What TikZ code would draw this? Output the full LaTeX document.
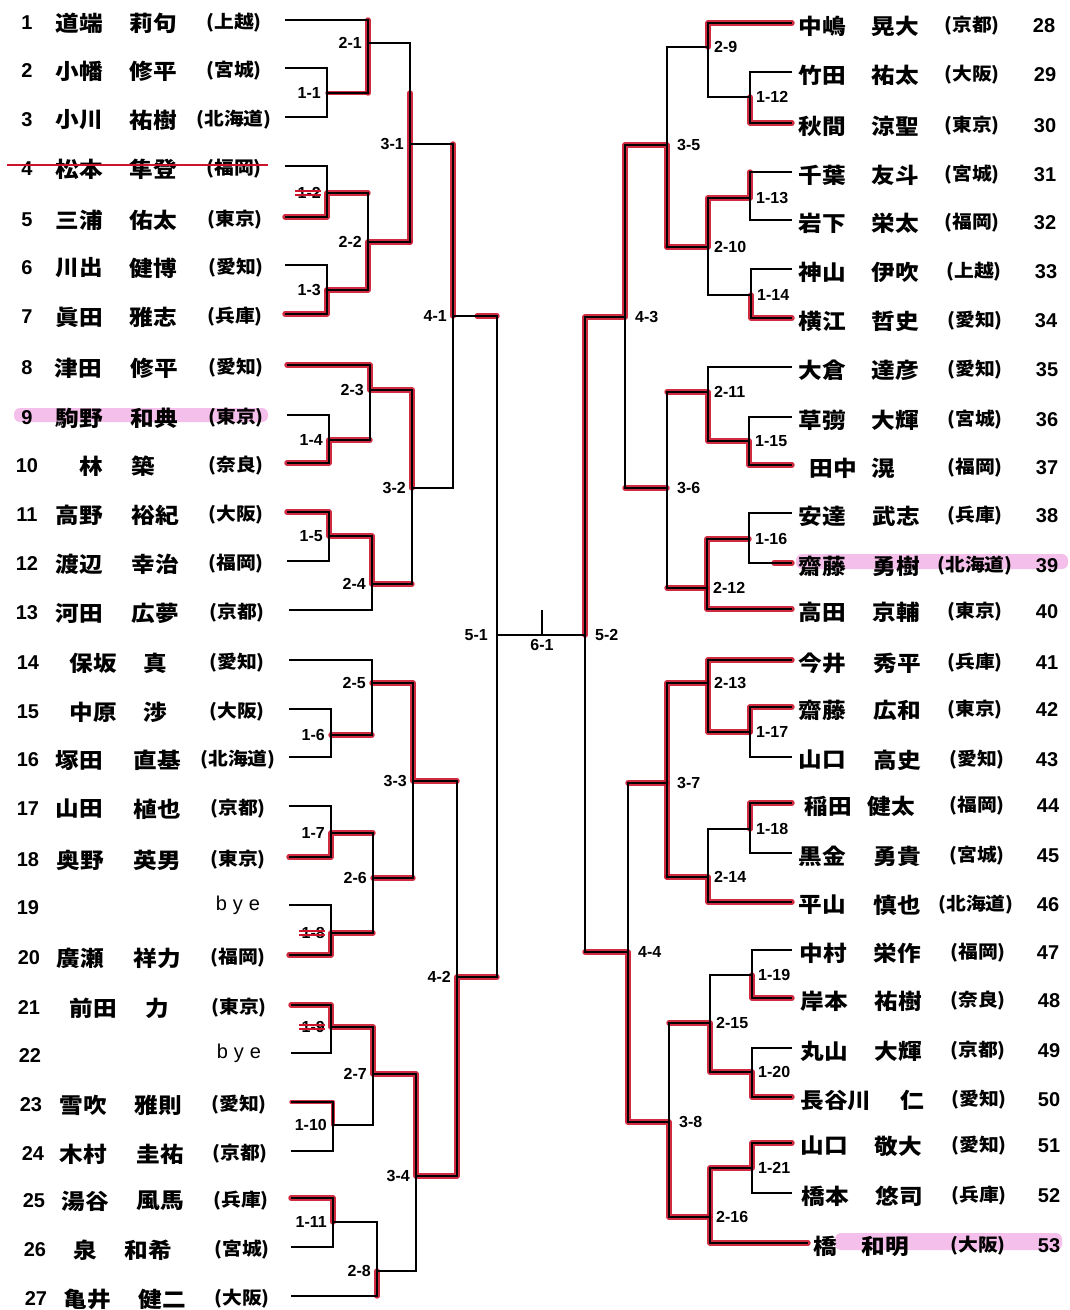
\documentclass[tikz,border=0pt]{standalone}
\usepackage{fontspec}
\setmainfont{Liberation Sans}
\newfontfamily\jp[FakeStretch=1.1]{Noto Sans CJK JP}
\usetikzlibrary{calc}
\definecolor{mk}{RGB}{205,20,45}
\definecolor{hl}{RGB}{238,140,220}
\begin{document}
\begin{tikzpicture}[x=1pt,y=-1pt,
 br/.style={line width=1.9pt,black},
 rd/.style={line width=5.4pt,mk,line cap=round,line join=round,opacity=0.9},
 num/.style={font=\bfseries\fontsize{20}{20}\selectfont,inner sep=0pt},
 lbl/.style={font=\bfseries\fontsize{16}{16}\selectfont,inner sep=0pt},
 nm/.style={font=\jp\bfseries\fontsize{21.5}{22}\selectfont,inner sep=0pt},
 pf/.style={font=\jp\bfseries\fontsize{18}{18}\selectfont,inner sep=0pt},
 hlt/.style={hl,opacity=0.55,rounded corners=6pt}]
\useasboundingbox (0,0) rectangle (1070,1310);
\fill[white] (0,0) rectangle (1070,1310);
% highlights
\fill[hlt] (14,408) rectangle (268,422);
\fill[hlt] (796,554) rectangle (1068,569);
\fill[hlt] (835,1233) rectangle (1062,1250);
% left players
\foreach \i/\y/\lx/\nx/\sx/\sn/\gx/\gn/\fx/\fn in {
1/20/285/27/79/道端/153/莉句/234/(上越),
2/68/285/27/79/小幡/153/修平/234/(宮城),
3/117/285/27/79/小川/153/祐樹/234/(北海道),
4/166/285/27/79/松本/153/隼登/234/(福岡),
5/217/285/27/79/三浦/153/佑太/235/(東京),
6/265/285/27/79/川出/153/健博/236/(愛知),
7/314/285/27/79/眞田/153/雅志/235/(兵庫),
8/365/287/27/78/津田/154/修平/236/(愛知),
9/415/287/27/79/駒野/154/和典/236/(東京),
10/463/287/27/91/林/143/築/236/(奈良),
11/512/287/27/79/高野/155/裕紀/236/(大阪),
12/561/287/27/79/渡辺/155/幸治/236/(福岡),
13/610/289/27/79/河田/155/広夢/237/(京都),
14/660/289/28/93/保坂/155/真/237/(愛知),
15/709/289/28/93/中原/155/渉/237/(大阪),
16/757/289/28/79/塚田/157/直基/238/(北海道),
17/806/289/28/79/山田/157/植也/238/(京都),
18/857/289/28/80/奥野/157/英男/238/(東京),
20/955/289/29/80/廣瀬/157/祥力/238/(福岡),
21/1005/291/29/93/前田/157/力/239/(東京),
23/1102/291/31/83/雪吹/158/雅則/239/(愛知),
24/1151/291/33/83/木村/160/圭祐/240/(京都),
25/1198/291/34/85/湯谷/160/風馬/241/(兵庫),
26/1247/291/35/85/泉/148/和希/242/(宮城),
27/1296/291/36/87/亀井/162/健二/242/(大阪)}{
 \coordinate (p\i) at (\lx,\y);
 \node[num] (n\i) at (\nx,\y+3) {\i};
 \node[nm] (s\i) at (\sx,\y+3) {\sn};
 \node[nm] (g\i) at (\gx,\y+3) {\gn};
 \node[pf] (f\i) at (\fx,\y+3) {\fn};
}
\coordinate (p19) at (289,905);
\node[num] (n19) at (28,908) {19};
\node[font=\fontsize{20}{20}\selectfont,inner sep=0pt] (f19) at (238,905) {b\hskip6pt y\hskip6pt e};
\coordinate (p22) at (291,1053);
\node[num] (n22) at (30,1056) {22};
\node[font=\fontsize{20}{20}\selectfont,inner sep=0pt] (f22) at (239,1053) {b\hskip6pt y\hskip6pt e};
% right players
\foreach \i/\y/\sx/\sn/\gx/\gn/\fx/\fn/\nx in {
28/23/822/中嶋/895/晃大/972/(京都)/1044,
29/72/822/竹田/895/祐太/972/(大阪)/1045,
30/123/822/秋間/895/涼聖/972/(東京)/1045,
31/172/822/千葉/895/友斗/972/(宮城)/1045,
32/220/822/岩下/895/栄太/972/(福岡)/1045,
33/269/822/神山/895/伊吹/974/(上越)/1046,
34/318/822/横江/895/哲史/975/(愛知)/1046,
35/367/822/大倉/895/達彦/975/(愛知)/1047,
36/417/822/草彅/895/大輝/975/(宮城)/1047,
37/465/833/田中/883/滉/975/(福岡)/1047,
38/513/822/安達/896/武志/975/(兵庫)/1047,
39/563/822/齋藤/896/勇樹/975/(北海道)/1047,
40/609/822/高田/896/京輔/975/(東京)/1047,
41/660/822/今井/897/秀平/975/(兵庫)/1047,
42/707/822/齋藤/897/広和/975/(東京)/1047,
43/757/822/山口/897/高史/977/(愛知)/1047,
44/803/828/稲田/891/健太/977/(福岡)/1048,
45/853/822/黒金/897/勇貴/977/(宮城)/1048,
46/902/822/平山/897/慎也/976/(北海道)/1048,
47/950/823/中村/897/栄作/978/(福岡)/1048,
48/998/824/岸本/898/祐樹/978/(奈良)/1049,
49/1048/824/丸山/898/大輝/978/(京都)/1049,
50/1097/836/長谷川/912/仁/979/(愛知)/1049,
51/1143/824/山口/898/敬大/979/(愛知)/1049,
52/1193/825/橋本/899/悠司/979/(兵庫)/1049,
53/1243/825/橋/885/和明/978/(大阪)/1049}{
 \coordinate (q\i) at (792,\y);
 \node[nm] (s\i) at (\sx,\y+3) {\sn};
 \node[nm] (g\i) at (\gx,\y+3) {\gn};
 \node[pf] (f\i) at (\fx,\y+3) {\fn};
 \node[num] (n\i) at (\nx,\y+3) {\i};
}
\coordinate (q53) at (808,1243);
% junctions
\coordinate (j1x1) at (327,93); \coordinate (j1x2) at (327,193); \coordinate (j1x3) at (327,290);
\coordinate (j1x4) at (329,440); \coordinate (j1x5) at (329,536); \coordinate (j1x6) at (331,735);
\coordinate (j1x7) at (331,833); \coordinate (j1x8) at (331,933); \coordinate (j1x9) at (331,1027);
\coordinate (j1x10) at (333,1125); \coordinate (j1x11) at (333,1222);
\coordinate (j2x1) at (368,43); \coordinate (j2x2) at (368,242); \coordinate (j2x3) at (370,390);
\coordinate (j2x4) at (372,584); \coordinate (j2x5) at (372,683); \coordinate (j2x6) at (373,878);
\coordinate (j2x7) at (373,1074); \coordinate (j2x8) at (377,1271);
\coordinate (j3x1) at (410,144); \coordinate (j3x2) at (412,488); \coordinate (j3x3) at (413,781);
\coordinate (j3x4) at (416,1176);
\coordinate (j4x1) at (453,316); \coordinate (j4x2) at (457,977);
\coordinate (j5x1) at (497,635); \coordinate (j6x1) at (542,635); \coordinate (t6x1) at (542,610);
\coordinate (j5x2) at (585,635);
\coordinate (j4x3) at (625,317); \coordinate (j4x4) at (628,952);
\coordinate (j3x5) at (667,145); \coordinate (j3x6) at (667,488); \coordinate (j3x7) at (667,783);
\coordinate (j3x8) at (669,1122);
\coordinate (j2x9) at (708,47); \coordinate (j2x10) at (708,247); \coordinate (j2x11) at (708,392);
\coordinate (j2x12) at (707,588); \coordinate (j2x13) at (708,683); \coordinate (j2x14) at (708,877);
\coordinate (j2x15) at (710,1023); \coordinate (j2x16) at (710,1217);
\coordinate (j1x12) at (750,97); \coordinate (j1x13) at (750,198); \coordinate (j1x14) at (751,295);
\coordinate (j1x15) at (749,441); \coordinate (j1x16) at (749,539); \coordinate (j1x17) at (750,732);
\coordinate (j1x18) at (750,829); \coordinate (j1x19) at (752,975); \coordinate (j1x20) at (752,1072);
\coordinate (j1x21) at (752,1168);
% red marker, left
\draw[rd] (j2x1 |- p1) -- (j2x1 |- j1x1);
\draw[rd,line width=3.4pt] (j1x1) -- (j1x1 -| j2x1);
\draw[rd] (j3x1 |- j1x1) -- (j3x1 |- j2x2);
\draw[rd] (j4x1 |- j3x1) -- (j4x1);
\draw[rd] ($(j4x1)!0.55!(j4x1 -| j5x1)$) -- (j4x1 -| j5x1);
\draw[rd] (p5) -| (j1x2) -- (j1x2 -| j2x2);
\draw[rd] (j2x2 -| j3x1) -- (j2x2) |- (j1x3);
\draw[rd] (p7) -| (j1x3);
\draw[rd] (p8) -| (j2x3) -- (j2x3 -| j3x2) -- (j3x2);
\draw[rd] (p10) -| (j1x4) -- (j1x4 -| j2x3);
\draw[rd] (p11) -| (j1x5) -| (j2x4) -- (j2x4 -| j3x2);
\draw[rd] (j2x5) -- (j2x5 -| j3x3) -- (j3x3) -- (j3x3 -| j4x2);
\draw[rd] (j1x6) -- (j1x6 -| j2x5);
\draw[rd] (p18) -| (j1x7) -- (j1x7 -| j2x6);
\draw[rd] (j2x6) -- (j2x6 -| j3x3);
\draw[rd] (p20) -| (j1x8) -- (j1x8 -| j2x6);
\draw[rd] (j4x2 -| j5x1) -- (j4x2) -- (j4x2 |- j3x4) -- (j3x4) |- (j2x7) |- (j1x9) |- (p21);
\draw[rd,line width=3.4pt] (p23) -| (j1x10);
\draw[rd] (p25) -| (j1x11);
\draw[rd] (j2x8) -- (j2x8 |- p27);
% red marker, right
\draw[rd] (q28) -| (j2x9);
\draw[rd] (j3x5 |- j2x10) -- (j3x5) -- (j3x5 -| j4x3) -- (j4x3) -- (j4x3 -| j5x2) -- (j5x2);
\draw[rd] (q30) -| (j1x12);
\draw[rd] (j1x13 |- q31) -- (j1x13) -| (j2x10) -- (j2x10 -| j3x5);
\draw[rd] (q34) -| (j1x14);
\draw[rd] (q37) -| (j1x15) -| (j2x11) -- (j2x11 -| j3x6);
\draw[rd] (j3x6) -- (j3x6 -| j4x3);
\draw[rd] (j1x16) -| (j2x12) |- (q40);
\draw[rd] (j2x12) -- (j2x12 -| j3x6);
\draw[rd] ($(q39)+(-18,0)$) -- (q39);
\draw[rd] (q41) -| (j2x13) |- (j1x17);
\draw[rd] (q42) -| (j1x17);
\draw[rd] (j2x13) -- (j2x13 -| j3x7) -- (j3x7 |- j2x14);
\draw[rd] (j3x7) -- (j3x7 -| j4x4);
\draw[rd] (q44) -| (j1x18);
\draw[rd] (j3x7 |- j2x14) -- (j2x14) |- (q46);
\draw[rd] (j5x2 |- j4x4) -- (j4x4) -- (j4x4 |- j3x8) -- (j3x8) -- (j3x8 |- j2x16) -- (j2x16) |- (q53);
\draw[rd] (q48) -| (j1x19);
\draw[rd] (j3x8 |- j2x15) -- (j2x15) |- (j1x20) |- (q50);
\draw[rd] (q51) -| (j1x21) -| (j2x16);
% black bracket, left
\draw[br] (p2) -| (j1x1) |- (p3);
\draw[br] (p4) -| (j1x2) |- (p5);
\draw[br] (p6) -| (j1x3) |- (p7);
\draw[br] (p9) -| (j1x4) |- (p10);
\draw[br] (p11) -| (j1x5) |- (p12);
\draw[br] (p15) -| (j1x6) |- (p16);
\draw[br] (p17) -| (j1x7) |- (p18);
\draw[br] (p19) -| (j1x8) |- (p20);
\draw[br] (p21) -| (j1x9) |- (p22);
\draw[br] (p23) -| (j1x10) |- (p24);
\draw[br] (p25) -| (j1x11) |- (p26);
\draw[br] (p1) -| (j2x1) |- (j1x1);
\draw[br] (j1x2) -| (j2x2) |- (j1x3);
\draw[br] (p8) -| (j2x3) |- (j1x4);
\draw[br] (j1x5) -| (j2x4) |- (p13);
\draw[br] (p14) -| (j2x5) |- (j1x6);
\draw[br] (j1x7) -| (j2x6) |- (j1x8);
\draw[br] (j1x9) -| (j2x7) |- (j1x10);
\draw[br] (j1x11) -| (j2x8) |- (p27);
\draw[br] (j2x1) -| (j3x1) |- (j2x2);
\draw[br] (j2x3) -| (j3x2) |- (j2x4);
\draw[br] (j2x5) -| (j3x3) |- (j2x6);
\draw[br] (j2x7) -| (j3x4) |- (j2x8);
\draw[br] (j3x1) -| (j4x1) |- (j3x2);
\draw[br] (j3x3) -| (j4x2) |- (j3x4);
\draw[br] (j4x1) -| (j5x1) |- (j4x2);
\draw[br] (j5x1) -- (j5x2);
\draw[br] (j6x1) -- (t6x1);
% black bracket, right
\draw[br] (q29) -| (j1x12) |- (q30);
\draw[br] (q31) -| (j1x13) |- (q32);
\draw[br] (q33) -| (j1x14) |- (q34);
\draw[br] (q36) -| (j1x15) |- (q37);
\draw[br] (q38) -| (j1x16) |- (q39);
\draw[br] (q42) -| (j1x17) |- (q43);
\draw[br] (q44) -| (j1x18) |- (q45);
\draw[br] (q47) -| (j1x19) |- (q48);
\draw[br] (q49) -| (j1x20) |- (q50);
\draw[br] (q51) -| (j1x21) |- (q52);
\draw[br] (q28) -| (j2x9) |- (j1x12);
\draw[br] (j1x13) -| (j2x10) |- (j1x14);
\draw[br] (q35) -| (j2x11) |- (j1x15);
\draw[br] (j1x16) -| (j2x12) |- (q40);
\draw[br] (q41) -| (j2x13) |- (j1x17);
\draw[br] (j1x18) -| (j2x14) |- (q46);
\draw[br] (j1x19) -| (j2x15) |- (j1x20);
\draw[br] (j1x21) -| (j2x16) |- (q53);
\draw[br] (j2x9) -| (j3x5) |- (j2x10);
\draw[br] (j2x11) -| (j3x6) |- (j2x12);
\draw[br] (j2x13) -| (j3x7) |- (j2x14);
\draw[br] (j2x15) -| (j3x8) |- (j2x16);
\draw[br] (j3x5) -| (j4x3) |- (j3x6);
\draw[br] (j3x7) -| (j4x4) |- (j3x8);
\draw[br] (j4x3) -| (j5x2) |- (j4x4);
% strike-through row 4
\draw[mk,line width=2pt] (7,165) -- (268,165);
% match labels
\foreach \a/\b in {1/1,1/2,1/3,1/4,1/5,1/6,1/7,1/8,1/9,1/10,1/11,2/1,2/2,2/3,2/4,2/5,2/6,2/7,2/8,3/1,3/2,3/3,3/4,4/1,4/2}{
 \node[lbl,anchor=east] (l\a x\b) at ([xshift=-6pt]j\a x\b) {\a-\b};
}
\node[lbl,anchor=east] (l5x1) at ([xshift=-9pt]j5x1) {5-1};
\foreach \a/\b in {1/12,1/13,1/14,1/15,1/16,1/17,1/18,1/19,1/20,1/21,2/9,2/10,2/11,2/12,2/13,2/14,2/15,2/16}{
 \node[lbl,anchor=west] (l\a x\b) at ([xshift=6pt]j\a x\b) {\a-\b};
}
\foreach \a/\b in {3/5,3/6,3/7,3/8,4/3,4/4,5/2}{
 \node[lbl,anchor=west] (l\a x\b) at ([xshift=10pt]j\a x\b) {\a-\b};
}
\node[lbl,anchor=north] (l6x1) at ([yshift=-4pt]j6x1) {6-1};
% crossed-out labels
\foreach \b in {2,8,9}{
 \draw[mk,line width=1.8pt] ([xshift=-2pt,yshift=2pt]l1x\b.west) -- ([yshift=2pt]l1x\b.east);
 \draw[mk,line width=1.8pt] ([xshift=-2pt,yshift=-2pt]l1x\b.west) -- ([yshift=-2pt]l1x\b.east);
}
\end{tikzpicture}
\end{document}
